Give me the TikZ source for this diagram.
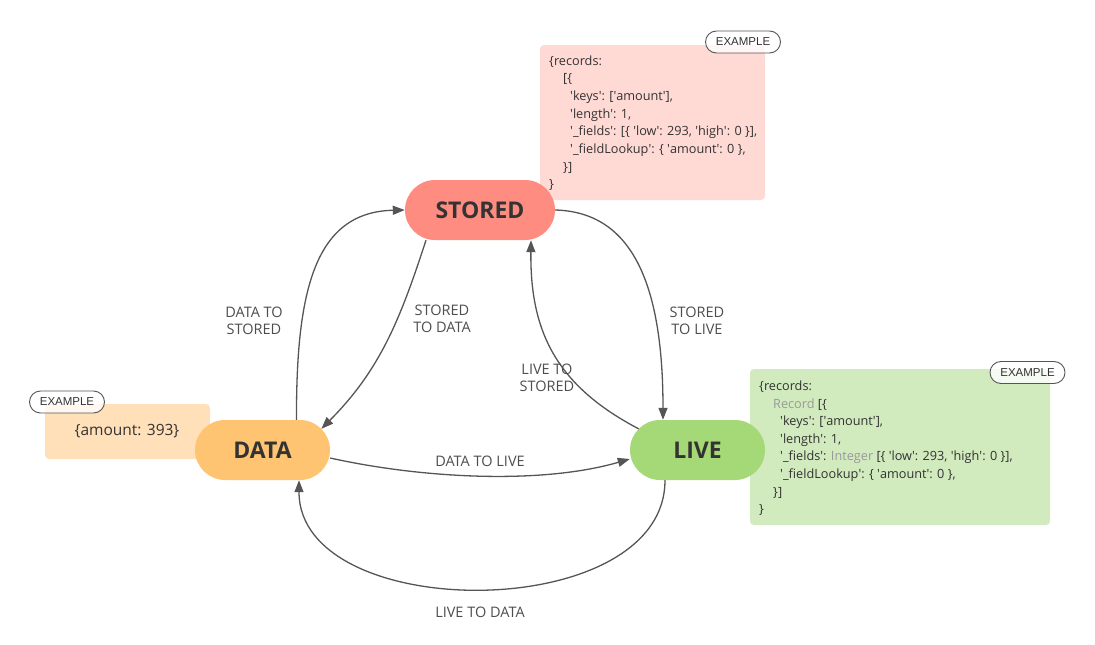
\documentclass[tikz,border=0pt]{standalone}
\usepackage{fontspec}
\setmainfont{Open Sans}
\newfontfamily\tagfont{Liberation Sans}
\usetikzlibrary{arrows.meta,calc}
\definecolor{storedfill}{HTML}{FF8C80}
\definecolor{datafill}{HTML}{FFC471}
\definecolor{livefill}{HTML}{A5D877}
\definecolor{pinkbox}{HTML}{FFDAD5}
\definecolor{orangebox}{HTML}{FFE0B8}
\definecolor{greenbox}{HTML}{D1EABE}
\definecolor{txt}{HTML}{333333}
\definecolor{edgecol}{HTML}{555555}
\definecolor{lblcol}{HTML}{4D4D4D}
\definecolor{graytxt}{HTML}{9A9A9A}
\newcommand\sq{\textquotesingle}
\begin{document}
\begin{tikzpicture}[x=1pt,y=-1pt,
  state/.style={rectangle, rounded corners=30, minimum width=#1, minimum height=60, inner sep=0,
    font=\fontsize{23}{28}\selectfont\bfseries, text=txt},
  infobox/.style={rectangle, rounded corners=4, inner sep=0, draw=none},
  tagbox/.style={rectangle, rounded corners=11, draw=edgecol, line width=0.9, fill=white, fill opacity=0.8,
    text opacity=1, minimum width=75, minimum height=22, inner sep=0, font=\tagfont\fontsize{11.5}{13}\selectfont, text=txt},
  code/.style={anchor=base west, inner sep=0, font=\fontsize{12.7}{14}\selectfont, text=txt},
  lbl/.style={align=center, inner sep=0, font=\fontsize{14.5}{17}\selectfont, text=lblcol},
  conn/.style={draw=edgecol, line width=1.3, -{Triangle[length=12,width=9]}},
]
\useasboundingbox (0,0) rectangle (1095,645);

% info boxes
\node[infobox, fill=pinkbox, minimum width=225, minimum height=155] (pbox) at (652.5,122.5) {};
\node[infobox, fill=orangebox, minimum width=165, minimum height=55] (obox) at (127.5,431.5) {};
\node[infobox, fill=greenbox, minimum width=300, minimum height=156] (gbox) at (900,447) {};

% code text, stored example
\node[code] (p1) at (549,65) {\{records:};
\node[code] (p2) at (563,82.7) {[\{};
\node[code] (p3) at (570,100.4) {\sq keys\sq: [\sq amount\sq],};
\node[code] (p4) at (570,118.1) {\sq length\sq: 1,};
\node[code] (p5) at (570,135.8) {\sq\_fields\sq: [\{ \sq low\sq: 293, \sq high\sq: 0 \}],};
\node[code] (p6) at (570,153.5) {\sq\_fieldLookup\sq: \{ \sq amount\sq: 0 \},};
\node[code] (p7) at (563,171.2) {\}]};
\node[code] (p8) at (549,188.9) {\}};

% code text, live example
\node[code] (g1) at (759,390.5) {\{records:};
\node[code] (g2) at (773,408.1) {\textcolor{graytxt}{Record} [\{};
\node[code] (g3) at (780,425.7) {\sq keys\sq: [\sq amount\sq],};
\node[code] (g4) at (780,443.3) {\sq length\sq: 1,};
\node[code] (g5) at (780,460.9) {\sq\_fields\sq: \textcolor{graytxt}{Integer} [\{ \sq low\sq: 293, \sq high\sq: 0 \}],};
\node[code] (g6) at (780,478.5) {\sq\_fieldLookup\sq: \{ \sq amount\sq: 0 \},};
\node[code] (g7) at (773,496.1) {\}]};
\node[code] (g8) at (759,513.7) {\}};

% data example
\node[inner sep=0, font=\fontsize{15.5}{18}\selectfont, text=txt] (otext) at (127,431) {\{amount: 393\}};

% states
\node[state=150, fill=storedfill] (stored) at (480,210) {STORED};
\node[state=135, fill=datafill] (data) at (262.5,450) {DATA};
\node[state=135, fill=livefill] (live) at (697.5,450) {LIVE};

% example tags
\node[tagbox] (ptag) at (743,42) {EXAMPLE};
\node[tagbox] (gtag) at (1027.5,372.5) {EXAMPLE};
\node[tagbox] (otag) at (67,402) {EXAMPLE};

% connectors
\draw[conn] ($(data.north)+(34,0)$) .. controls (296,290) and (315,212) .. (stored.west);
\draw[conn] ($(stored.south)+(-54,0)$) .. controls (400,320) and (380,370) .. ($(data.east)+(-8.8,-21.2)$);
\draw[conn] (stored.east) .. controls (630,212) and (663,280) .. ($(live.north)+(-34.5,0)$);
\draw[conn] ($(live.west)+(8.8,-21.2)$) .. controls (555,385) and (530,330) .. ($(stored.south)+(51,0)$);
\draw[conn] ($(data.east)+(0,8)$) .. controls (420,478) and (540,485) .. ($(live.west)+(0,9)$);
\draw[conn] ($(live.south)+(-32.5,0)$) .. controls (665,625) and (299,625) .. ($(data.south)+(36.5,0)$);

% labels
\node[lbl] (l1) at (254,321) {DATA TO\\STORED};
\node[lbl] (l2) at (442,319) {STORED\\TO DATA};
\node[lbl] (l3) at (697,320.5) {STORED\\TO LIVE};
\node[lbl] (l4) at (547,378) {LIVE TO\\STORED};
\node[lbl] (l5) at (480,461) {DATA TO LIVE};
\node[lbl] (l6) at (480,612) {LIVE TO DATA};
\end{tikzpicture}
\end{document}
